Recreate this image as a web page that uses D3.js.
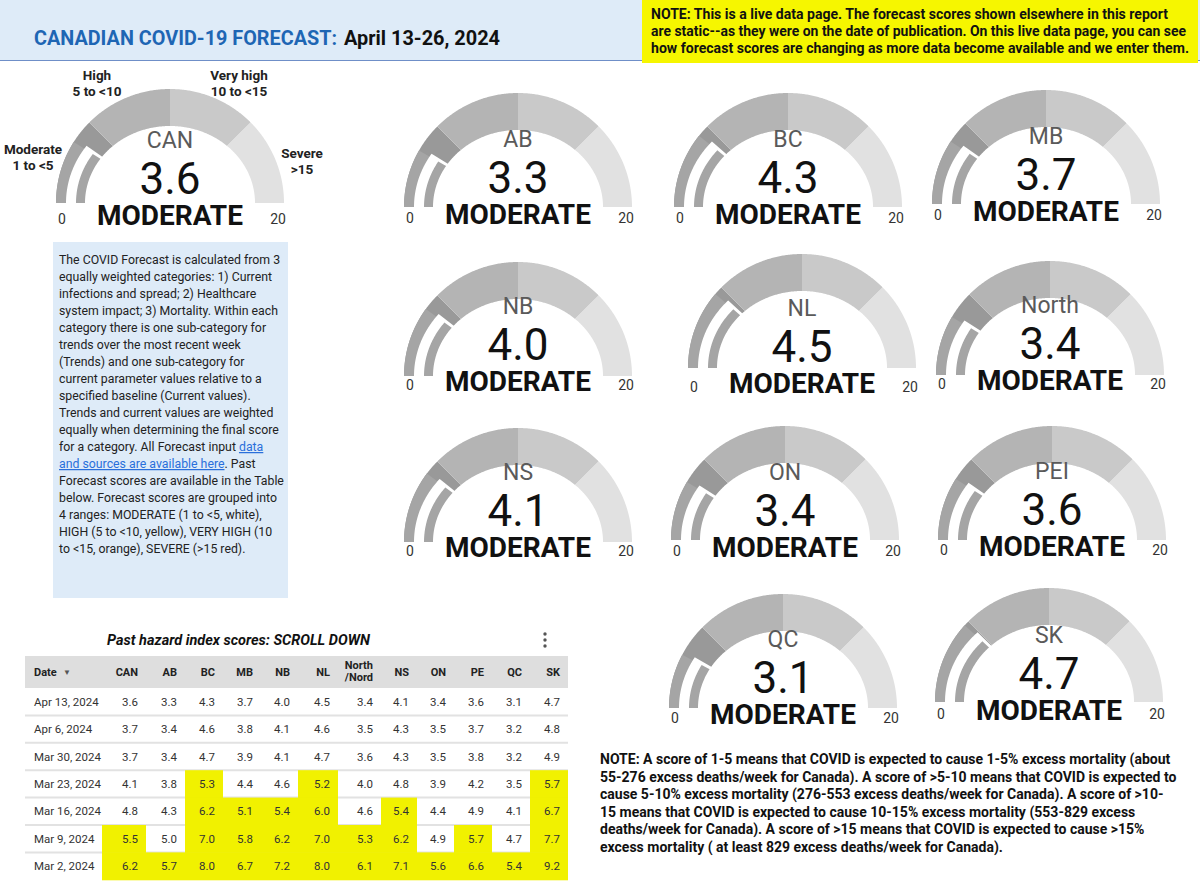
<!DOCTYPE html>
<html>
<head>
<meta charset="utf-8">
<script src="https://cdn.jsdelivr.net/npm/d3@7"></script>
<style>
  body { margin:0; background:#fff; }
  svg { display:block; font-family: Roboto, "Noto Sans", sans-serif; }
</style>
</head>
<body>
<div id="chart"></div>
<script>
// ---- data ----
var gaugeNames  = ["CAN","AB","BC","MB","NB","NL","North","NS","ON","PEI","QC","SK"];
var gaugeValues = [3.6, 3.3, 4.3, 3.7, 4.0, 4.5, 3.4, 4.1, 3.4, 3.6, 3.1, 4.7];
var rangeBreaks = [0, 5, 10, 15, 20];
var rangeNames  = ["MODERATE","HIGH","VERY HIGH","SEVERE"];

var tableCols  = ["CAN","AB","BC","MB","NB","NL","North/Nord","NS","ON","PE","QC","SK"];
var tableDates = ["Apr 13, 2024","Apr 6, 2024","Mar 30, 2024","Mar 23, 2024","Mar 16, 2024","Mar 9, 2024","Mar 2, 2024"];
var tableValues = [
  [3.6,3.3,4.3,3.7,4.0,4.5,3.4,4.1,3.4,3.6,3.1,4.7],
  [3.7,3.4,4.6,3.8,4.1,4.6,3.5,4.3,3.5,3.7,3.2,4.8],
  [3.7,3.4,4.7,3.9,4.1,4.7,3.6,4.3,3.5,3.8,3.2,4.9],
  [4.1,3.8,5.3,4.4,4.6,5.2,4.0,4.8,3.9,4.2,3.5,5.7],
  [4.8,4.3,6.2,5.1,5.4,6.0,4.6,5.4,4.4,4.9,4.1,6.7],
  [5.5,5.0,7.0,5.8,6.2,7.0,5.3,6.2,4.9,5.7,4.7,7.7],
  [6.2,5.7,8.0,6.7,7.2,8.0,6.1,7.1,5.6,6.6,5.4,9.2]
];

var infoLines = [
  "The COVID Forecast is calculated from 3",
  "equally weighted categories: 1) Current",
  "infections and spread; 2) Healthcare",
  "system impact; 3) Mortality. Within each",
  "category there is one sub-category for",
  "trends over the most recent week",
  "(Trends) and one sub-category for",
  "current parameter values relative to a",
  "specified baseline (Current values).",
  "Trends and current values are weighted",
  "equally when determining the final score",
  "for a category. All Forecast input |data",
  "|and sources are available here|. Past",
  "Forecast scores are available in the Table",
  "below. Forecast scores are grouped into",
  "4 ranges: MODERATE (1 to <5, white),",
  "HIGH (5 to <10, yellow), VERY HIGH (10",
  "to <15, orange), SEVERE (>15 red)."
];
var liveNote = [
  "NOTE: This is a live data page. The forecast scores shown elsewhere in this report",
  "are static--as they were on the date of publication. On this live data page, you can see",
  "how forecast scores are changing as more data become available and we enter them."
];
var bottomNote = [
  "NOTE: A score of 1-5 means that COVID is expected to cause 1-5% excess mortality (about",
  "55-276 excess deaths/week for Canada). A score of >5-10 means that COVID is expected to",
  "cause 5-10% excess mortality (276-553 excess deaths/week for Canada). A score of >10-",
  "15 means that COVID is expected to cause 10-15% excess mortality (553-829 excess",
  "deaths/week for Canada). A score of >15 means that COVID is expected to cause >15%",
  "excess mortality ( at least 829 excess deaths/week for Canada)."
];

// ---- layout ----
var W = 1200, H = 884;
var gaugePos = [ // cx, band bottom, MODERATE baseline
  [170,203,225],[518,207,224],[788,207,224],[1046,204,221],
  [518,376,391],[802,368,393],[1050,375,390],
  [518,542,557],[785,540,557],[1052,540,556],
  [783,708,724],[1049,702,720]
];
var segColors = ["#999999","#b4b4b4","#c9c9c9","#e1e1e1"];
var R_OUT = 114;

var svg = d3.select("#chart").append("svg").attr("width",W).attr("height",H);

// header
svg.append("rect").attr("x",0).attr("y",0).attr("width",W).attr("height",60).attr("fill","#deebf8");
svg.append("line").attr("x1",0).attr("x2",W).attr("y1",60.5).attr("y2",60.5).attr("stroke","#6f8fc8").attr("stroke-width",1.2);
svg.append("text").attr("x",34).attr("y",45).attr("font-size",21).attr("font-weight",700).attr("fill","#1e66b4")
  .attr("textLength",303).attr("lengthAdjust","spacingAndGlyphs")
  .text("CANADIAN COVID-19 FORECAST:");
svg.append("text").attr("x",344).attr("y",45).attr("font-size",21).attr("font-weight",700).attr("fill","#111")
  .attr("textLength",156).attr("lengthAdjust","spacingAndGlyphs")
  .text("April 13-26, 2024");

svg.append("rect").attr("x",642).attr("y",0).attr("width",556).attr("height",63).attr("fill","#f6f600");
var liveW = [517, 535, 538];
svg.append("g").selectAll("text").data(liveNote).enter().append("text")
  .attr("x",651).attr("y",(d,i)=>19+i*17).attr("font-size",14.2).attr("font-weight",700).attr("fill","#111")
  .attr("textLength",(d,i)=>liveW[i]).attr("lengthAdjust","spacingAndGlyphs")
  .text(d=>d);

// ---- gauges ----
var angle = d3.scaleLinear().domain([0,20]).range([-Math.PI/2, Math.PI/2]);
var rIn = function(a){ // inner edge is a little flatter than a circle
  return 1/Math.sqrt(Math.pow(Math.sin(a)/85,2) + Math.pow(Math.cos(a)/77,2));
};
var radial = d3.lineRadial().angle(d=>d[0]).radius(d=>d[1]);
var ringPath = function(v0, v1, rA, rB){
  var a0 = angle(v0), a1 = angle(v1);
  var n = Math.max(2, Math.ceil(Math.abs(a1-a0)/0.01));
  var outer = d3.range(n+1).map(i=>{ var a=a0+(a1-a0)*i/n; return [a, rB(a)]; });
  var inner = d3.range(n+1).map(i=>{ var a=a1+(a0-a1)*i/n; return [a, rA(a)]; });
  return radial(outer.concat(inner)) + "Z";
};
var category = function(v){
  for (var i=1;i<rangeBreaks.length;i++) if (v < rangeBreaks[i]) return rangeNames[i-1];
  return rangeNames[rangeNames.length-1];
};

gaugeNames.forEach(function(name, gi){
  var v = gaugeValues[gi];
  var p = gaugePos[gi];
  var g = svg.append("g").attr("transform","translate("+p[0]+","+p[1]+")");
  var segs = d3.range(rangeBreaks.length-1);
  g.selectAll("path.seg").data(segs).enter().append("path").attr("class","seg")
    .attr("d", i=>ringPath(rangeBreaks[i], rangeBreaks[i+1], rIn, ()=>R_OUT))
    .attr("fill", i=>segColors[i]);
  g.append("path").attr("d", ringPath(0, v, rIn, ()=>R_OUT)).attr("fill","#a5a5a5");
  g.append("path").attr("d", ringPath(0, v+0.22, a=>rIn(a)-1, a=>rIn(a)+19)).attr("fill","#fff");
  g.append("path").attr("d", ringPath(0, v, rIn, a=>rIn(a)+9)).attr("fill","#a5a5a5");

  var ty = p[2]-p[1];
  g.append("text").attr("x",0).attr("y",ty-77).attr("text-anchor","middle")
    .attr("font-size",23).attr("fill","#5a5a5a").text(name);
  g.append("text").attr("x",0).attr("y",ty-31).attr("text-anchor","middle")
    .attr("font-size",44).attr("fill","#111").text(d3.format(".1f")(v));
  g.append("text").attr("x",0).attr("y",ty).attr("text-anchor","middle")
    .attr("font-size",28).attr("font-weight",700).attr("fill","#111").text(category(v));
  g.selectAll("text.tick").data(d3.extent(rangeBreaks)).enter().append("text").attr("class","tick")
    .attr("x", d=> d===0 ? -108 : 108).attr("y",ty-1).attr("text-anchor","middle")
    .attr("font-size",14).attr("fill","#333").text(d=>d);
});

// range labels on the CAN gauge
var rangeLabels = [
  {t:["Moderate","1 to <5"], x:33, y:154},
  {t:["High","5 to <10"], x:97, y:80},
  {t:["Very high","10 to <15"], x:239, y:80},
  {t:["Severe",">15"], x:302, y:158}
];
rangeLabels.forEach(function(l){
  svg.append("g").selectAll("text").data(l.t).enter().append("text")
    .attr("x",l.x).attr("y",(d,i)=>l.y+i*16).attr("text-anchor","middle")
    .attr("font-size",13.5).attr("font-weight",700).attr("fill","#222").text(d=>d);
});

// ---- info box ----
svg.append("rect").attr("x",53).attr("y",242).attr("width",235).attr("height",356).attr("fill","#deebf8");
var info = svg.append("g").attr("font-size",12.3).attr("fill","#222");
infoLines.forEach(function(line, i){
  var t = info.append("text").attr("x",59).attr("y",264+i*17);
  line.split("|").forEach(function(part, k){
    var isLink = (i===11 && k===1) || (i===12 && k===1);
    t.append("tspan").text(part)
      .attr("fill", isLink ? "#2a6fdb" : "#222")
      .attr("text-decoration", isLink ? "underline" : null);
  });
});

// ---- table ----
var tX0 = 25, tX1 = 568;
var colEdges = [102,146,185,223,261,298,338,381,417,454,492,530,568];
var headTop = 656, headH = 32, rowH = 27.4;
var rowY = d3.scaleBand().domain(tableDates).range([headTop+headH, headTop+headH+rowH*tableDates.length]);

svg.append("text").attr("x",107).attr("y",645).attr("font-size",14.5).attr("font-weight",700)
  .attr("font-style","italic").attr("fill","#111").text("Past hazard index scores: SCROLL DOWN");
svg.append("g").selectAll("circle").data([-6,0,6]).enter().append("circle")
  .attr("cx",545).attr("cy",d=>640+d).attr("r",1.7).attr("fill","#555");

svg.append("rect").attr("x",tX0).attr("y",headTop).attr("width",tX1-tX0).attr("height",headH).attr("fill","#dedede");
var head = svg.append("g").attr("font-size",11).attr("font-weight",700).attr("fill","#222");
head.append("text").attr("x",34).attr("y",headTop+20).text("Date");
head.append("text").attr("x",63).attr("y",headTop+19).attr("font-size",8).attr("fill","#555").text("\u25BC");
tableCols.forEach(function(c, j){
  var parts = c.indexOf("/")>0 ? [c.split("/")[0], "/"+c.split("/")[1]] : [c];
  var t = head.append("text").attr("text-anchor","end");
  parts.forEach(function(s, k){
    t.append("tspan").attr("x", colEdges[j+1]-8)
      .attr("y", parts.length>1 ? headTop+13+k*12 : headTop+20).text(s);
  });
});

// separators
svg.append("g").selectAll("line").data(tableDates.slice(1)).enter().append("line")
  .attr("x1",tX0).attr("x2",tX1).attr("y1",d=>rowY(d)).attr("y2",d=>rowY(d))
  .attr("stroke","#e2e2e2").attr("stroke-width",2);

var cells = [];
tableValues.forEach(function(row, i){
  row.forEach(function(v, j){ cells.push({date:tableDates[i], col:j, v:v}); });
});
svg.append("g").selectAll("rect").data(cells.filter(d=>d.v>5)).enter().append("rect")
  .attr("x",d=>colEdges[d.col]).attr("y",d=>rowY(d.date))
  .attr("width",d=>colEdges[d.col+1]-colEdges[d.col]).attr("height",rowY.bandwidth()+0.5)
  .attr("fill","#f1f100");
var body = svg.append("g").attr("font-size",11.5).attr("fill","#333");
body.selectAll("text.date").data(tableDates).enter().append("text").attr("class","date")
  .attr("x",34).attr("y",d=>rowY(d)+rowY.bandwidth()/2+4).text(d=>d);
body.selectAll("text.val").data(cells).enter().append("text").attr("class","val")
  .attr("x",d=>colEdges[d.col+1]-8).attr("y",d=>rowY(d.date)+rowY.bandwidth()/2+4)
  .attr("text-anchor","end").text(d=>d3.format(".1f")(d.v));

// ---- bottom note ----
svg.append("g").selectAll("text").data(bottomNote).enter().append("text")
  .attr("x",600).attr("y",(d,i)=>764+i*17.5).attr("font-size",14).attr("font-weight",700)
  .attr("fill","#111").text(d=>d);
</script>
</body>
</html>
